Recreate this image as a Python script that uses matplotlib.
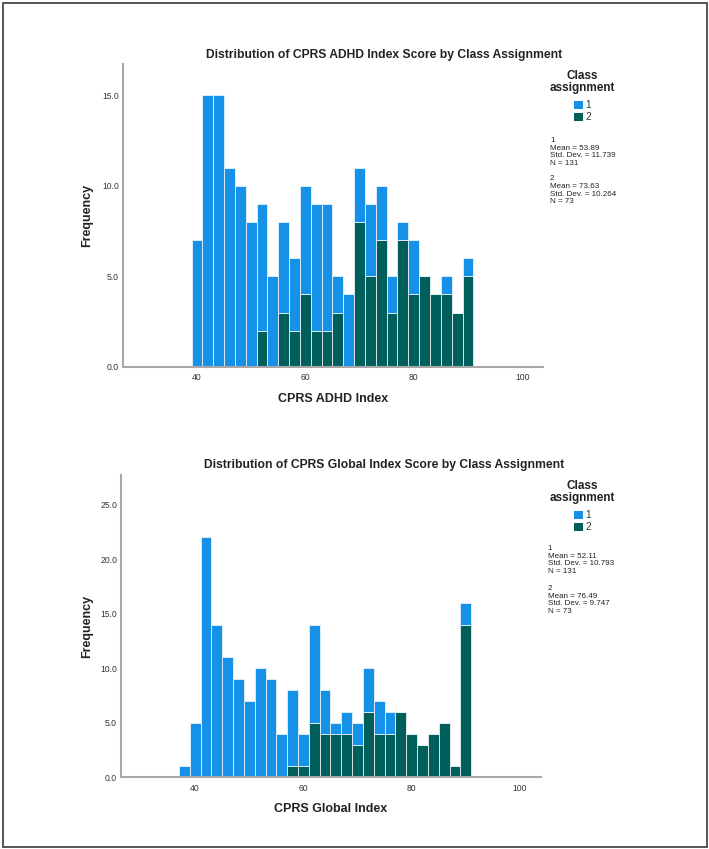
import numpy as np
import matplotlib
matplotlib.use('Agg')
import matplotlib.pyplot as plt
from matplotlib.patches import Rectangle

plt.rcParams['font.family'] = ['Liberation Sans', 'DejaVu Sans']

W, H = 709, 849

# CPRS ADHD Index (bins of width 2, centres 40..90)
adhd_bins = list(range(40, 92, 2))
adhd_class1 = [7, 15, 15, 11, 10, 8, 7, 5, 5, 4, 6, 7, 7, 2, 4, 3, 4, 3, 2, 1, 3, 0, 0, 1, 0, 1]
adhd_class2 = [0, 0, 0, 0, 0, 0, 2, 0, 3, 2, 4, 2, 2, 3, 0, 8, 5, 7, 3, 7, 4, 5, 4, 4, 3, 5]
adhd_stats = [['1', 'Mean = 53.89', 'Std. Dev. = 11.739', 'N = 131'],
              ['2', 'Mean = 73.63', 'Std. Dev. = 10.264', 'N = 73']]

# CPRS Global Index (centres 38..90)
glob_bins = list(range(38, 92, 2))
glob_class1 = [1, 5, 22, 14, 11, 9, 7, 10, 9, 4, 7, 3, 9, 4, 1, 2, 2, 4, 3, 2, 0, 0, 0, 0, 0, 0, 2]
glob_class2 = [0, 0, 0, 0, 0, 0, 0, 0, 0, 0, 1, 1, 5, 4, 4, 4, 3, 6, 4, 4, 6, 4, 3, 4, 5, 1, 14]
glob_stats = [['1', 'Mean = 52.11', 'Std. Dev. = 10.793', 'N = 131'],
              ['2', 'Mean = 76.49', 'Std. Dev. = 9.747', 'N = 73']]

x_ticks = [40, 60, 80, 100]
class_names = ['1', '2']
c1 = '#1591e8'
c2 = '#005e5b'
axis_col = '#a8a8a8'
txt = '#222222'


def fx(x):
    return x / W


def fy(y):
    return 1 - y / H


fig = plt.figure(figsize=(W / 100, H / 100), dpi=100)
fig.patch.set_facecolor('white')
fig.patches.append(Rectangle((fx(3), fy(847)), fx(704), 844 / H, transform=fig.transFigure,
                             fill=False, edgecolor='#555555', linewidth=1.4))


def panel(box, bins, v1, v2, ylim, yticks, title, xlabel, stats, y0, stats_x, stats_y):
    l, t, r, b = box
    ax = fig.add_axes([fx(l), fy(b), (r - l) / W, (b - t) / H])
    ax.bar(bins, v2, width=2, color=c2, edgecolor='#e6eef0', linewidth=0.6)
    ax.bar(bins, v1, width=2, bottom=v2, color=c1, edgecolor='#e6f2fc', linewidth=0.6)
    ax.set_xlim(26.3, 103.9)
    ax.set_ylim(*ylim)
    for s in ['top', 'right']:
        ax.spines[s].set_visible(False)
    for s in ['left', 'bottom']:
        ax.spines[s].set_color(axis_col)
        ax.spines[s].set_linewidth(1.5)
    ax.set_xticks(x_ticks)
    ax.set_xticklabels([str(v) for v in x_ticks])
    ax.set_yticks(yticks)
    ax.set_yticklabels(['%.1f' % v for v in yticks])
    ax.tick_params(length=0, labelsize=6.2, colors='#333333')
    ax.tick_params(axis='x', pad=4.5)
    ax.tick_params(axis='y', pad=2.8)

    fig.text(fx(384), fy(y0), title, ha='center', va='center', fontsize=8.7,
             fontweight='bold', color=txt)
    fig.text(fx((l + r) / 2), fy(b + 31.5), xlabel, ha='center', va='center',
             fontsize=9, fontweight='bold', color=txt)
    fig.text(fx(87.5), fy((t + b) / 2), 'Frequency', ha='center', va='center',
             rotation=90, fontsize=9, fontweight='bold', color=txt)

    # legend
    fig.text(fx(582.7), fy(y0 + 20.7), 'Class', ha='center', va='center',
             fontsize=8.5, fontweight='bold', color=txt)
    fig.text(fx(582.7), fy(y0 + 32.7), 'assignment', ha='center', va='center',
             fontsize=8.5, fontweight='bold', color=txt)
    for i, (name, col) in enumerate(zip(class_names, [c1, c2])):
        yc = y0 + 50.3 + 12 * i
        fig.patches.append(Rectangle((fx(574.3), fy(yc + 4)), 8.4 / W, 8 / H,
                                     transform=fig.transFigure, facecolor=col,
                                     edgecolor='none'))
        fig.text(fx(585.5), fy(yc), name, ha='left', va='center', fontsize=7.2,
                 color='#333333')

    # summary statistics
    for g, block in enumerate(stats):
        for j, line in enumerate(block):
            fig.text(fx(stats_x), fy(stats_y[g] + 7.6 * j), line, ha='left',
                     va='center', fontsize=5.8, color='#222222')
    return ax


panel((122.7, 64.3, 543.3, 367.0), adhd_bins, adhd_class1, adhd_class2,
      (0, 16.7), [0, 5, 10, 15],
      'Distribution of CPRS ADHD Index Score by Class Assignment',
      'CPRS ADHD Index', adhd_stats, 55, 550, [140.7, 179])

panel((121.0, 475.0, 541.0, 777.3), glob_bins, glob_class1, glob_class2,
      (0, 27.7), [0, 5, 10, 15, 20, 25],
      'Distribution of CPRS Global Index Score by Class Assignment',
      'CPRS Global Index', glob_stats, 465, 547.5, [548.5, 588.5])

fig.savefig('out.png', dpi=100)
